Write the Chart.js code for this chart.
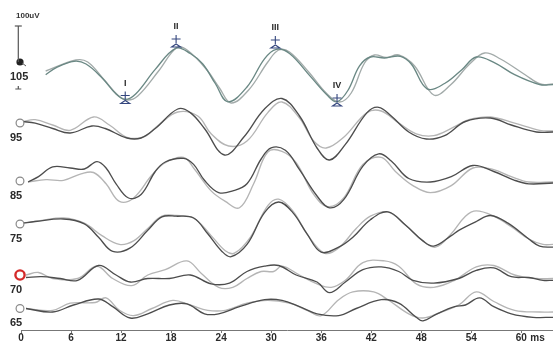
<!DOCTYPE html>
<html><head><meta charset="utf-8">
<script src="https://cdn.jsdelivr.net/npm/chart.js@4.4.1/dist/chart.umd.min.js"></script>
<style>html,body{margin:0;padding:0;background:#fff}#wrap{width:553px;height:342px;position:relative}</style>
</head><body><div id="wrap"><canvas id="c" width="553" height="342"></canvas></div>
<script>
// ---- data (time in ms, amplitude relative to each trace's baseline) ----
const LEVELS = ['105', '95', '85', '75', '70', '65'];
const LEVEL_OFFSETS = [268, 207, 149, 106, 55, 21.5];
const X_TICKS = [0, 6, 12, 18, 24, 30, 36, 42, 48, 54, 60];
const X_MAX = 63.8;

const L105_A = [[2.96,-12.7],[4.23,-5.6],[6.35,0.7],[7.8,-2],[9.73,-16],[11.4,-32],[12.48,-37.4],[13.75,-32],[16.1,-7.4],[18.6,13.8],[20.3,8.5],[21.8,-2],[23.3,-21.5],[24.8,-39.8],[27.1,-25],[29.2,3.2],[30.6,12.7],[32.2,8.5],[34.7,-14.4],[36.8,-33.8],[37.9,-39.8],[39.2,-28.5],[40.6,-3.9],[41.9,5],[43.6,4],[45.5,5.7],[46.8,-2],[48.7,-26.8],[50.8,-21.5],[52.9,-7.4],[54.6,5],[56.7,-0.3],[59.2,-12.7],[62.2,-22.6],[63.8,-22.6]];
const L105_B = [[2.96,-9],[6.6,2],[8.0,0],[10.0,-18],[11.6,-33],[12.7,-38],[14.0,-34],[16.5,-9],[18.7,14.5],[20.0,11.5],[22.3,-8],[23.8,-26],[25.2,-41],[27.3,-28],[29.6,0],[30.9,12],[32.2,10],[34.5,-10],[36.6,-31],[38.2,-40],[39.6,-31],[41.2,-1],[42.4,7],[43.8,4.5],[45.3,7],[47.2,-4],[49.5,-33],[51.5,-23],[53.8,-2],[55.6,9],[57.5,3],[60.5,-13],[62.3,-22],[63.8,-22]];

const L95_A = [[0.2,1.5],[1.7,-0.2],[3.8,-5.5],[5.9,-10],[8.5,-3],[10.1,-5.5],[12.7,-15],[14.4,-15],[16.1,-5.5],[18.8,14],[20.3,10.4],[22,-5.5],[24.4,-32],[26.7,-14.3],[29.2,14],[31.3,24.5],[33.4,7],[35.5,-25],[37,-37],[38.9,-21.4],[41.5,10.4],[42.9,15.7],[44.4,7],[46.5,-9],[48.6,-16],[50.8,-12.6],[53.3,1.5],[56.3,5],[58.8,-2],[61.8,-9],[63.8,-9]];
const L95_B = [[0.2,1.5],[1.7,3.3],[3.8,-2],[5.9,-7.3],[8.7,6],[10.6,-2],[12.7,-14.3],[14.8,-13.6],[16.5,-2],[18.8,11],[21.2,7],[22.8,-10.8],[24.9,-23],[27.1,-18],[29.6,10.4],[31.3,21],[33.4,5],[35.1,-18],[36.6,-25],[38.7,-14.3],[41.5,10.4],[43.2,12],[45.3,0],[47.4,-10.8],[49.5,-12.6],[52,-3.7],[53.7,3.3],[56.3,6],[59.2,-0.2],[62.2,-7.3],[63.8,-8]];

const L85_A = [[0.85,-1],[2.1,4.3],[3.8,14.1],[5.9,13],[7.6,12],[9.1,19.4],[10.2,13],[11.4,-2.8],[12.9,-17],[14.4,-13.4],[16.1,9.5],[17.3,19],[19.5,22.6],[20.7,16.6],[22,0.7],[23.7,-11.6],[25.4,-9.9],[27.1,-2.8],[28.8,22],[30,33.2],[31.7,30.7],[33.4,11.3],[35.5,-15],[37,-26.8],[38.7,-18.7],[41,14.8],[42.9,27.2],[44.4,20.1],[46.5,2.5],[49.1,-1],[51.6,4.3],[54.2,15.5],[56.7,9.5],[59.2,0.7],[60.9,-2.8],[63.8,-2]];
const L85_B = [[0.85,-1],[3,1.4],[5.1,0.7],[7.2,7.1],[8.7,8.5],[10.2,-2.8],[11.8,-20.4],[13.5,-16.9],[15.7,6],[17.3,18.4],[19.5,23.7],[20.7,13],[22.8,-9.9],[24.5,-20.4],[26.2,-26.8],[27.9,-2.8],[29.6,29],[31.3,29.7],[33,18.4],[35.1,-13.4],[36.8,-25.7],[38.7,-16.9],[41,16.6],[43.2,23.7],[44.9,9.5],[47,-4.6],[49.1,-11.6],[51.6,-4.6],[54.2,13],[56.7,11.3],[58.8,4.3],[60.9,-1],[63.8,-1]];

const L75_A = [[0.2,0.8],[1.7,2.5],[5.1,5],[7.6,0.1],[9.3,-13.3],[11,-27.4],[13.1,-23.9],[15.2,-6.3],[16.9,7.1],[18.6,7.8],[20.7,6],[22.4,-9.8],[24.1,-27.4],[25.2,-32.7],[27.1,-20.4],[29.2,11.4],[30.9,22],[32.6,11.4],[34.3,-9.8],[36,-28.1],[38.1,-23.2],[39.8,-13.3],[41.9,4.3],[44,12.1],[46.1,-1],[48.2,-16.9],[49.5,-22.1],[51.6,-11.6],[52.5,-6.3],[54.6,2.5],[56.3,8.5],[58.4,0.8],[60.9,-15],[62.2,-22.1],[63.8,-23.2]];
const L75_B = [[0.2,0.8],[2.5,3.6],[5.1,6.1],[7.6,0.8],[9.7,-11.6],[11.8,-20.4],[13.5,-16.9],[15.2,-4.5],[16.9,7.8],[18.6,8.5],[20.7,6],[22.8,-11.6],[24.5,-26.7],[25.6,-29.2],[27.5,-13.3],[29.6,18.4],[30.9,24.8],[32.6,13.1],[34.3,-9.8],[36.4,-29.2],[38.1,-23.9],[40.2,-4.5],[41.9,7.8],[44,12.1],[46.1,-1],[48.2,-16.9],[49.7,-23.2],[51.6,-9.8],[53.3,7.8],[54.6,13.1],[56.7,7.8],[58.8,-2.7],[60.9,-15],[62.6,-20.4],[63.8,-20.4]];

const L70_A = [[0.6,-2.5],[2.5,-1.7],[4.7,-3.5],[6.8,-5.3],[9.3,9.5],[11.4,0],[13.1,-7],[15.2,-3.5],[17.8,-3.5],[20.3,0],[22.8,-8.8],[25,-8.1],[27.1,3.5],[29.2,8.8],[30.9,9.5],[33,0],[35.5,-7],[37,-17.6],[38.9,-7],[41,5.3],[43.2,8.1],[45.3,3.5],[47,-5.3],[49.5,-8.1],[52.5,-3.5],[54.6,4.6],[56.7,7.1],[58.8,-1.7],[60.9,-2.5],[62.6,-5.3],[63.8,-5.3]];
const L70_B = [[0.6,0],[2.1,2.5],[3.8,-3.5],[6.8,-3.5],[9.1,8.8],[11,-3.5],[13.3,-10.6],[15.2,0],[17.3,5.3],[19.9,14.1],[21.6,1.8],[23.7,-12.3],[25.4,-12.3],[27.1,-3.5],[28.8,3.5],[30.3,3.5],[31.3,8.8],[33.4,0],[35.5,-8.8],[37.2,-12.3],[38.9,-5.3],[41,12.4],[43.6,14.1],[45.3,8.8],[47.4,-8.8],[49.5,-12.3],[52,-5.3],[54.6,8.1],[56.7,9.5],[59.2,0],[61.8,-3.5],[63.8,-3.5]];

const L65_A = [[0.6,0],[3.8,-3.5],[6.3,3.5],[9.3,9.5],[11,1.8],[13.1,-9.5],[15.2,-5.3],[17.8,3.5],[19.9,4.6],[22,-5.3],[23.7,-5.3],[26.2,1.8],[29.2,8.8],[31.3,8.1],[33.4,1.8],[35.5,-5.3],[38.1,-7.1],[40.2,0],[43.2,8.8],[45.3,5.3],[47.4,-8.8],[48.2,-12.4],[49.9,-5.3],[52,1.8],[53.3,3.5],[55,10.6],[56.7,1.8],[58.8,-5.3],[61.4,-8.8],[63.8,-8.8]];
const L65_B = [[0.6,0],[3.8,-1.8],[5.9,5.3],[8.9,6],[10.2,10.6],[11.8,-1.8],[13.5,-7.1],[15.7,0],[18.2,8.1],[20.3,3.5],[22.4,-1.8],[24.5,-1.8],[27.1,5.3],[29.6,8.1],[32.2,5.3],[34.3,-1.8],[36,-7.1],[38.1,8.8],[39.8,16.6],[42.3,16.6],[44,8.8],[46.5,-5.3],[48.2,-9.5],[50.4,-3.5],[52.5,3.5],[54.6,16.6],[56.7,7],[59.2,-1.8],[62.2,-3.5],[63.8,-3.5]];

const PEAK_LABELS = ['I', 'II', 'III', 'IV'];
const PEAK_TIMES = [12.5, 18.6, 30.5, 37.9];
const PEAK_VALUES = [-37.5, 14, 13, -40];   // on the 105 trace
const SCALE_BAR_LABEL = '100uV';
const SCALE_BAR_UNITS = 36;                 // 100 uV in chart amplitude units

// ---- build datasets ----
const TRACES = [[L105_A, L105_B], [L95_A, L95_B], [L85_A, L85_B], [L75_A, L75_B], [L70_A, L70_B], [L65_A, L65_B]];
const datasets = [];
TRACES.forEach((pair, i) => {
  const off = LEVEL_OFFSETS[i];
  const darkCol = i === 0 ? '#6a8884' : '#4d4d4d';
  const lightCol = i === 0 ? '#a3abaa' : '#b5b5b5';
  datasets.push({ label: LEVELS[i] + ' A', data: pair[0].map(p => ({ x: p[0], y: off + p[1] })), borderColor: darkCol, order: 0 });
  datasets.push({ label: LEVELS[i] + ' B', data: pair[1].map(p => ({ x: p[0], y: off + p[1] })), borderColor: lightCol, order: 1 });
});
datasets.forEach(d => { d.borderWidth = 1.35; d.pointRadius = 0; d.tension = 0.38; d.fill = false; });

const FONT = '"Liberation Sans", Arial, sans-serif';

const deco = {
  id: 'deco',
  afterDatasetsDraw(chart) {
    const ctx = chart.ctx, xs = chart.scales.x, ys = chart.scales.y;
    ctx.save();
    // level markers and labels
    LEVELS.forEach((lv, i) => {
      const y = ys.getPixelForValue(LEVEL_OFFSETS[i]);
      const x = xs.getPixelForValue(0) - 1;
      ctx.beginPath();
      if (i === 0) {
        ctx.fillStyle = '#222';
        ctx.arc(x, y, 3.6, 0, Math.PI * 2); ctx.fill();
        ctx.strokeStyle = '#555'; ctx.lineWidth = 1;
        ctx.beginPath(); ctx.moveTo(x + 2, y + 1); ctx.lineTo(x + 6, y + 4); ctx.stroke();
      } else if (lv === '70') {
        ctx.strokeStyle = '#d42a2a'; ctx.lineWidth = 2.4;
        ctx.fillStyle = '#fff';
        ctx.arc(x, y, 4.6, 0, Math.PI * 2); ctx.fill(); ctx.stroke();
      } else {
        ctx.strokeStyle = '#8a8a8a'; ctx.lineWidth = 1.2;
        ctx.fillStyle = '#fff';
        ctx.arc(x, y, 3.9, 0, Math.PI * 2); ctx.fill(); ctx.stroke();
      }
      ctx.fillStyle = '#2a2a2a';
      ctx.font = 'bold 11px ' + FONT;
      ctx.textAlign = 'left'; ctx.textBaseline = 'middle';
      ctx.fillText(lv, 10, y + 14.5);
    });
    // scale bar
    const sx = 18.3;
    const yb = ys.getPixelForValue(LEVEL_OFFSETS[0]);
    const yt = ys.getPixelForValue(LEVEL_OFFSETS[0] + SCALE_BAR_UNITS);
    ctx.strokeStyle = '#555'; ctx.lineWidth = 1.2;
    ctx.beginPath(); ctx.moveTo(sx, yt); ctx.lineTo(sx, yb); ctx.stroke();
    ctx.beginPath(); ctx.moveTo(sx - 3.5, yt); ctx.lineTo(sx + 3.5, yt); ctx.stroke();
    const yb2 = yb + 27;
    ctx.beginPath(); ctx.moveTo(sx, yb2 - 3); ctx.lineTo(sx, yb2); ctx.moveTo(sx - 3, yb2); ctx.lineTo(sx + 3, yb2); ctx.stroke();
    ctx.fillStyle = '#333'; ctx.font = 'bold 8px ' + FONT;
    ctx.textAlign = 'left'; ctx.textBaseline = 'middle';
    ctx.fillText(SCALE_BAR_LABEL, 16, 15.5);
    // peak markers
    PEAK_LABELS.forEach((lb, k) => {
      const px = xs.getPixelForValue(PEAK_TIMES[k]);
      const py = ys.getPixelForValue(LEVEL_OFFSETS[0] + PEAK_VALUES[k]);
      const isPeak = PEAK_VALUES[k] > 0;
      const cy = isPeak ? py - 9 : py - 4;     // cross position
      ctx.strokeStyle = '#34467e'; ctx.fillStyle = '#34467e'; ctx.lineWidth = 1.1;
      ctx.beginPath();
      ctx.moveTo(px, cy - 4); ctx.lineTo(px, cy + 4);
      ctx.moveTo(px - 4.5, cy); ctx.lineTo(px + 4.5, cy);
      ctx.stroke();
      const ty = cy + 6.5;
      ctx.beginPath();
      ctx.moveTo(px - 4.5, ty + 1.5); ctx.lineTo(px + 4.5, ty + 1.5); ctx.lineTo(px, ty - 1.5); ctx.closePath();
      ctx.stroke();
      ctx.fillStyle = '#2a2a2a'; ctx.font = 'bold 9px ' + FONT;
      ctx.textAlign = 'center'; ctx.textBaseline = 'middle';
      ctx.fillText(lb, px, cy - 12);
    });
    // unit after last tick
    const lx = xs.getPixelForValue(X_TICKS[X_TICKS.length - 1]);
    ctx.fillStyle = '#2a2a2a'; ctx.font = 'bold 10px ' + FONT;
    ctx.textAlign = 'left'; ctx.textBaseline = 'middle';
    ctx.fillText('ms', lx + 9, 338);
    ctx.restore();
  }
};

new Chart(document.getElementById('c'), {
  type: 'line',
  data: { datasets },
  options: {
    responsive: false, animation: false, devicePixelRatio: 1,
    layout: { padding: { left: 21, right: 0, top: 0, bottom: 0 } },
    plugins: { legend: { display: false }, tooltip: { enabled: false } },
    scales: {
      x: {
        type: 'linear', min: 0, max: X_MAX,
        afterBuildTicks: s => { s.ticks = X_TICKS.map(v => ({ value: v })); },
        afterFit: s => { s.height = 12; },
        grid: { display: true, drawOnChartArea: false, drawTicks: true, tickLength: 3, color: '#777', lineWidth: 1 },
        border: { display: true, color: '#777', width: 1 },
        ticks: { autoSkip: false, maxRotation: 0, padding: 0, color: '#2a2a2a',
                 font: { family: FONT, size: 10, weight: 'bold', lineHeight: 1 },
                 callback: v => String(v) }
      },
      y: { type: 'linear', min: 0, max: 330, display: false }
    }
  },
  plugins: [deco]
});
</script></body></html>
